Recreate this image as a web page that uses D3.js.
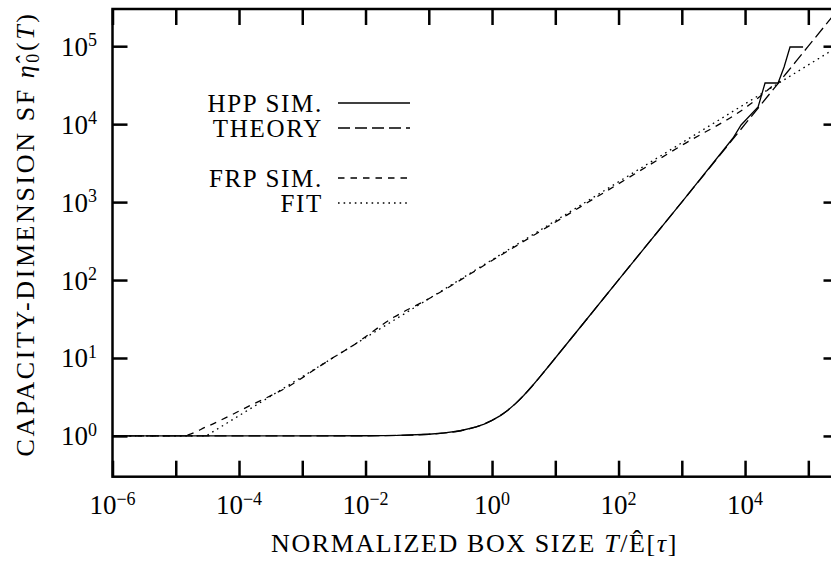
<!DOCTYPE html>
<html>
<head>
<meta charset="utf-8">
<script src="https://cdn.jsdelivr.net/npm/d3@7"></script>
<style>
  body { margin: 0; background: #fff; }
  svg { display: block; }
  text { font-family: "Liberation Serif", "Times New Roman", serif; fill: #000; }
</style>
</head>
<body>
<svg id="chart" width="831" height="563"></svg>
<script>
// ---- data -------------------------------------------------------------
// Box sizes T (normalized) and capacity-dimension scaling function values
const theoryT   = [1e-6, 1e-5, 1e-4, 1e-3, 0.01, 0.0316, 0.1, 0.178, 0.316, 0.562, 0.75, 1, 1.334, 1.778, 2.371, 3.162, 4.217, 5.623, 7.499, 10, 17.78, 31.62, 100, 1000, 1e4, 1e5, 3.162e5];
const theoryEta = [1, 1, 1.00005, 1.0005, 1.005, 1.016, 1.051, 1.092, 1.166, 1.307, 1.422, 1.582, 1.811, 2.140, 2.616, 3.302, 4.280, 5.643, 7.503, 10.0, 17.78, 31.62, 100.5, 1000.5, 1e4, 1e5, 3.162e5];

const hppT   = [1e-6, 1e-5, 1e-4, 1e-3, 0.01, 0.0316, 0.1, 0.178, 0.316, 0.562, 0.75, 1, 1.334, 1.778, 2.371, 3.162, 4.217, 5.623, 7.499, 10, 17.78, 31.62, 100, 1000, 6460, 8650, 16070, 20700, 33270, 41400, 51400, 82600];
const hppEta = [1, 1, 1.00005, 1.0005, 1.005, 1.016, 1.051, 1.092, 1.166, 1.307, 1.422, 1.582, 1.811, 2.140, 2.616, 3.302, 4.280, 5.643, 7.503, 10.0, 17.78, 31.62, 100.5, 1000.5, 6640, 9750, 16600, 33730, 33730, 54100, 97700, 97700];

const frpT   = [1e-6, 1e-5, 1.21e-5, 3.24e-5, 7.48e-5, 1.55e-4, 2.88e-4, 6.64e-4, 1.53e-3, 3.18e-3, 5.48e-3, 0.0283, 0.1, 1, 5.53, 100, 1000, 11560, 30900];
const frpEta = [1, 1, 1.0, 1.34, 1.85, 2.49, 3.16, 4.50, 7.01, 10.28, 13.43, 33.5, 57.5, 178, 413, 1720, 5350, 17580, 33730];

const fitT   = [1e-6, 1e-5, 3.02e-5, 3.16e-5, 1e-4, 1e-3, 0.01, 0.1, 1, 10, 100, 1000, 1e4, 1e5, 3.162e5];
const fitEta = [1, 1, 1, 1.023, 1.82, 5.75, 18.2, 57.5, 182, 575, 1820, 5754, 18200, 57540, 102300];

const xTickPowers  = [-6, -5, -4, -3, -2, -1, 0, 1, 2, 3, 4, 5];
const xLabelPowers = [-6, -4, -2, 0, 2, 4];
const yTickPowers  = [0, 1, 2, 3, 4, 5];

const legendItems = [
  { label: "HPP SIM.", dash: null,      row: 0 },
  { label: "THEORY",   dash: "12,5",    row: 1 },
  { label: "FRP SIM.", dash: "6.5,6",   row: 3 },
  { label: "FIT",      dash: "1.6,4",   row: 4 }
];

// ---- layout -----------------------------------------------------------
const plot = { left: 112.5, right: 838.5, top: 9, bottom: 476.7 };

const svg = d3.select("#chart");

const x = d3.scaleLog().domain([1e-6, 3e5]).range([plot.left, plot.right]);
const y = d3.scaleLog().domain([0.3, 3e5]).range([plot.bottom, plot.top]);

const zip = (a, b) => a.map((v, i) => [v, b[i]]);

svg.append("defs").append("clipPath").attr("id", "plot-clip")
  .append("rect")
  .attr("x", plot.left).attr("y", plot.top)
  .attr("width", plot.right - plot.left).attr("height", plot.bottom - plot.top);

// ---- curves -----------------------------------------------------------
const smooth = d3.line().x(d => x(d[0])).y(d => y(d[1])).curve(d3.curveMonotoneX);
const straight = d3.line().x(d => x(d[0])).y(d => y(d[1]));

const curves = svg.append("g").attr("clip-path", "url(#plot-clip)")
  .attr("fill", "none").attr("stroke", "#000").attr("stroke-width", 1.3);

curves.append("path").attr("d", smooth(zip(theoryT, theoryEta))).attr("stroke-dasharray", "12,5");
curves.append("path").attr("d", smooth(zip(fitT, fitEta))).attr("stroke-dasharray", "1.6,4");
curves.append("path").attr("d", smooth(zip(frpT, frpEta))).attr("stroke-dasharray", "6.5,6");
curves.append("path").attr("d", straight(zip(hppT, hppEta)));

// ---- axes (ticks on all four sides, pointing inward) ----------------
const xTicks = xTickPowers.map(p => Math.pow(10, p));
const yTicks = yTickPowers.map(p => Math.pow(10, p));

function styleAxis(g) {
  g.select(".domain").remove();
  g.selectAll(".tick line").attr("stroke", "#000").attr("stroke-width", 2.5);
  g.selectAll(".tick text").remove();
}

svg.append("g").attr("transform", `translate(0,${plot.bottom})`)
  .call(d3.axisBottom(x).tickValues(xTicks).tickSize(-16).tickFormat("")).call(styleAxis);
svg.append("g").attr("transform", `translate(0,${plot.top})`)
  .call(d3.axisTop(x).tickValues(xTicks).tickSize(-16).tickFormat("")).call(styleAxis);
svg.append("g").attr("transform", `translate(${plot.left},0)`)
  .call(d3.axisLeft(y).tickValues(yTicks).tickSize(-15).tickFormat("")).call(styleAxis);
svg.append("g").attr("transform", `translate(${plot.right},0)`)
  .call(d3.axisRight(y).tickValues(yTicks).tickSize(-15).tickFormat("")).call(styleAxis);

// frame
svg.append("rect")
  .attr("x", plot.left).attr("y", plot.top)
  .attr("width", plot.right - plot.left).attr("height", plot.bottom - plot.top)
  .attr("fill", "none").attr("stroke", "#000").attr("stroke-width", 2.5);

// ---- tick labels ------------------------------------------------------
function powerLabel(sel, p) {
  sel.append("tspan").text("10");
  sel.append("tspan").attr("dy", -9.5).attr("font-size", 18)
    .text(p < 0 ? "\u2212" + Math.abs(p) : String(p));
}

svg.append("g").selectAll("text").data(xLabelPowers).join("text")
  .attr("x", p => x(Math.pow(10, p)))
  .attr("y", 514)
  .attr("text-anchor", "middle")
  .attr("font-size", 27)
  .each(function (p) { powerLabel(d3.select(this), p); });

svg.append("g").selectAll("text").data(yTickPowers).join("text")
  .attr("x", 97)
  .attr("y", p => y(Math.pow(10, p)) + 9.5)
  .attr("text-anchor", "end")
  .attr("font-size", 27)
  .each(function (p) { powerLabel(d3.select(this), p); });

// ---- axis titles ------------------------------------------------------
const xTitle = svg.append("text")
  .attr("x", (plot.left + plot.right) / 2 - 1)
  .attr("y", 552)
  .attr("text-anchor", "middle")
  .attr("font-size", 26)
  .attr("letter-spacing", 1.6);
xTitle.append("tspan").text("NORMALIZED BOX SIZE ");
xTitle.append("tspan").attr("font-style", "italic").text("T");
xTitle.append("tspan").text("/\u00CA[");
xTitle.append("tspan").attr("font-style", "italic").text("\u03C4");
xTitle.append("tspan").text("]");

const yTitle = svg.append("text")
  .attr("transform", "translate(34,234) rotate(-90)")
  .attr("text-anchor", "middle")
  .attr("font-size", 26)
  .attr("letter-spacing", 2.6);
yTitle.append("tspan").text("CAPACITY-DIMENSION SF ");
yTitle.append("tspan").attr("font-style", "italic").text("\u03B7\u0302");
yTitle.append("tspan").attr("font-size", 18).attr("dy", 5).text("0");
yTitle.append("tspan").attr("dy", -5).text("(");
yTitle.append("tspan").attr("font-style", "italic").text("T");
yTitle.append("tspan").text(")");

// ---- legend -----------------------------------------------------------
const legend = svg.append("g");
const rowH = 25, baseY = 112;
legendItems.forEach(item => {
  const by = baseY + item.row * rowH;
  legend.append("text")
    .attr("x", 323).attr("y", by)
    .attr("text-anchor", "end")
    .attr("font-size", 25)
    .attr("letter-spacing", 1.7)
    .text(item.label);
  legend.append("line")
    .attr("x1", 338).attr("x2", 410)
    .attr("y1", by - 9).attr("y2", by - 9)
    .attr("stroke", "#000").attr("stroke-width", 1.3)
    .attr("stroke-dasharray", item.dash);
});
</script>
</body>
</html>
